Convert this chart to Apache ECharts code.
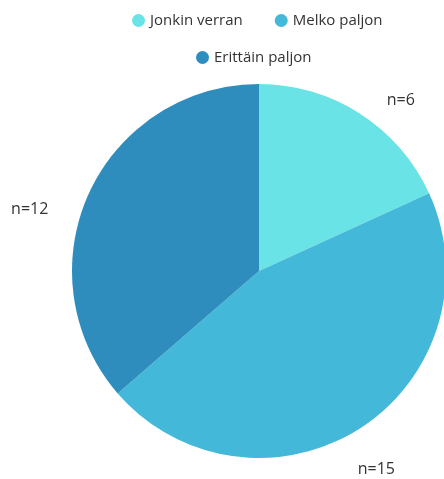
<!DOCTYPE html>
<html><head><meta charset="utf-8">
<script src="https://cdn.jsdelivr.net/npm/echarts@6/dist/echarts.min.js"></script>
<style>html,body{margin:0;padding:0;background:#fff}#c{width:444px;height:479px}</style>
</head><body><div id="c"></div>
<script>
const categories = ["Jonkin verran", "Melko paljon", "Erittäin paljon"];
const values = [6, 15, 12];
const labels = ["n=6", "n=15", "n=12"];
const colors = ["#6ae3e7", "#43b8d8", "#2e8dbd"];

const legendText = { fontFamily: "Open Sans", fontSize: 15, color: '#333' };
const chart = echarts.init(document.getElementById('c'));
chart.setOption({
  animation: false,
  color: colors,
  textStyle: { fontFamily: "Open Sans" },
  legend: [{
    top: 8, left: 127,
    icon: 'circle', itemWidth: 13, itemHeight: 13, itemGap: 32,
    textStyle: legendText,
    data: categories.slice(0, 2)
  }, {
    top: 45, left: 191,
    icon: 'circle', itemWidth: 13, itemHeight: 13, itemGap: 32,
    textStyle: legendText,
    data: categories.slice(2)
  }],
  series: [{
    type: 'pie',
    center: [259, 271],
    radius: 187,
    startAngle: 90,
    clockwise: true,
    label: {
      show: true, position: 'outside',
      fontFamily: "Open Sans", fontSize: 16, color: '#333',
      formatter: p => labels[p.dataIndex]
    },
    labelLine: { show: false, length: 16, length2: 13 },
    labelLayout: function (p) {
      const shifts = [[0, 0], [-29, 28], [-8, 23]];
      return { dx: shifts[p.dataIndex][0], dy: shifts[p.dataIndex][1] };
    },
    emphasis: { disabled: true },
    data: categories.map((c, i) => ({ name: c, value: values[i] }))
  }]
});
</script></body></html>
